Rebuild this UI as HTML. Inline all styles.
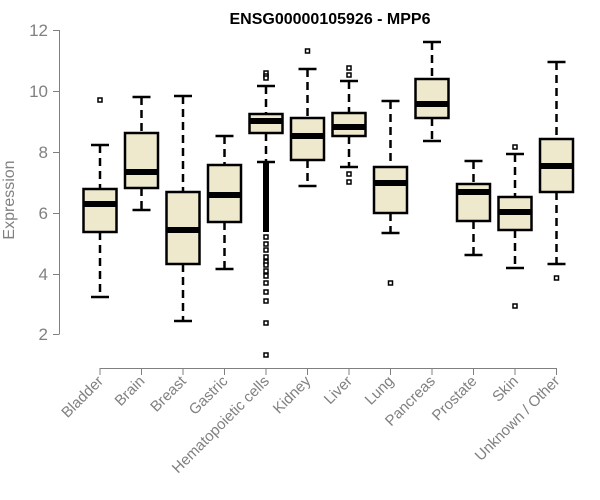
<!DOCTYPE html>
<html><head><meta charset="utf-8"><style>body{margin:0;background:#fff}svg{display:block}</style></head>
<body>
<svg width="600" height="500" xmlns="http://www.w3.org/2000/svg" font-family="Liberation Sans, Arial, sans-serif">
<text x="330" y="24" text-anchor="middle" font-size="16" font-weight="bold">ENSG00000105926 - MPP6</text>
<g stroke="#808080" stroke-width="1" fill="none">
<line x1="59.5" y1="30" x2="59.5" y2="334"/>
<line x1="53" y1="30.5" x2="59.5" y2="30.5"/><line x1="53" y1="91.5" x2="59.5" y2="91.5"/><line x1="53" y1="152.5" x2="59.5" y2="152.5"/><line x1="53" y1="213.5" x2="59.5" y2="213.5"/><line x1="53" y1="274.5" x2="59.5" y2="274.5"/><line x1="53" y1="334.5" x2="59.5" y2="334.5"/>
<line x1="100" y1="368.5" x2="557" y2="368.5"/>
<line x1="100" y1="368" x2="100" y2="375"/><line x1="141.5" y1="368" x2="141.5" y2="375"/><line x1="183" y1="368" x2="183" y2="375"/><line x1="224.5" y1="368" x2="224.5" y2="375"/><line x1="266" y1="368" x2="266" y2="375"/><line x1="307.5" y1="368" x2="307.5" y2="375"/><line x1="349" y1="368" x2="349" y2="375"/><line x1="390.5" y1="368" x2="390.5" y2="375"/><line x1="432" y1="368" x2="432" y2="375"/><line x1="473.5" y1="368" x2="473.5" y2="375"/><line x1="515" y1="368" x2="515" y2="375"/><line x1="556.5" y1="368" x2="556.5" y2="375"/>
</g>
<g fill="#808080" font-size="17" text-anchor="end">
<text x="48" y="36">12</text><text x="48" y="97">10</text><text x="48" y="158">8</text><text x="48" y="219">6</text><text x="48" y="280">4</text><text x="48" y="340">2</text>
</g>
<text transform="translate(14,200) rotate(-90)" text-anchor="middle" fill="#808080" font-size="16">Expression</text>
<g fill="#808080" font-size="15" text-anchor="end">
<text transform="translate(104,382) rotate(-45)">Bladder</text>
<text transform="translate(145.5,382) rotate(-45)">Brain</text>
<text transform="translate(187,382) rotate(-45)">Breast</text>
<text transform="translate(228.5,382) rotate(-45)">Gastric</text>
<text transform="translate(270,382) rotate(-45)">Hematopoietic cells</text>
<text transform="translate(311.5,382) rotate(-45)">Kidney</text>
<text transform="translate(353,382) rotate(-45)">Liver</text>
<text transform="translate(394.5,382) rotate(-45)">Lung</text>
<text transform="translate(436,382) rotate(-45)">Pancreas</text>
<text transform="translate(477.5,382) rotate(-45)">Prostate</text>
<text transform="translate(519,382) rotate(-45)">Skin</text>
<text transform="translate(560.5,382) rotate(-45)">Unknown / Other</text>
</g>
<g stroke="#000" stroke-width="2.5" fill="none">
<g stroke-dasharray="8,5">
<path d="M100 145V189M100 232V297M141.5 97V133M141.5 188V210M183 96V192M183 264V321M224.5 136V165M224.5 222V269M266 86V114M266 133V162M307.5 69V118M307.5 160V186M349 81V113M349 136V167M390.5 101V167M390.5 213V233M432 42V79M432 118V141M473.5 161V184M473.5 221V255M515 154V197M515 230V268M556.5 62V139M556.5 192V264"/>
</g>
<path d="M91 145H109M91 297H109M132.5 97H150.5M132.5 210H150.5M174 96H192M174 321H192M215.5 136H233.5M215.5 269H233.5M257 86H275M257 162H275M298.5 69H316.5M298.5 186H316.5M340 81H358M340 167H358M381.5 101H399.5M381.5 233H399.5M423 42H441M423 141H441M464.5 161H482.5M464.5 255H482.5M506 154H524M506 268H524M547.5 62H565.5M547.5 264H565.5"/>
<g fill="#EEE8CD">
<rect x="83.5" y="189" width="33" height="43"/>
<rect x="125" y="133" width="33" height="55"/>
<rect x="166.5" y="192" width="33" height="72"/>
<rect x="208" y="165" width="33" height="57"/>
<rect x="249.5" y="114" width="33" height="19"/>
<rect x="291" y="118" width="33" height="42"/>
<rect x="332.5" y="113" width="33" height="23"/>
<rect x="374" y="167" width="33" height="46"/>
<rect x="415.5" y="79" width="33" height="39"/>
<rect x="457" y="184" width="33" height="37"/>
<rect x="498.5" y="197" width="33" height="33"/>
<rect x="540" y="139" width="33" height="53"/>
</g>
<path stroke-width="6" d="M83.5 204H116.5M125 172H158M166.5 230H199.5M208 195H241M249.5 121H282.5M291 136H324M332.5 127H365.5M374 183H407M415.5 104H448.5M457 192H490M498.5 212H531.5M540 166H573"/>
</g>
<rect x="263" y="162" width="6" height="70" fill="#000"/>
<g fill="#fff" stroke="#000" stroke-width="1.5">
<rect x="98" y="98" width="4" height="4"/>
<rect x="264" y="71" width="4" height="4"/><rect x="264" y="74" width="4" height="4"/><rect x="264" y="76" width="4" height="4"/>
<rect x="264" y="235" width="4" height="4"/><rect x="264" y="242" width="4" height="4"/><rect x="264" y="248" width="4" height="4"/><rect x="264" y="255" width="4" height="4"/><rect x="264" y="260" width="4" height="4"/><rect x="264" y="263" width="4" height="4"/><rect x="264" y="269" width="4" height="4"/><rect x="264" y="274" width="4" height="4"/><rect x="264" y="281" width="4" height="4"/><rect x="264" y="290" width="4" height="4"/><rect x="264" y="299" width="4" height="4"/><rect x="264" y="321" width="4" height="4"/><rect x="264" y="353" width="4" height="4"/>
<rect x="305.5" y="49" width="4" height="4"/>
<rect x="347" y="66" width="4" height="4"/><rect x="347" y="73" width="4" height="4"/><rect x="347" y="172" width="4" height="4"/><rect x="347" y="180" width="4" height="4"/>
<rect x="388.5" y="281" width="4" height="4"/>
<rect x="513" y="145" width="4" height="4"/><rect x="513" y="304" width="4" height="4"/>
<rect x="554.5" y="276" width="4" height="4"/>
</g>
</svg>
</body></html>
